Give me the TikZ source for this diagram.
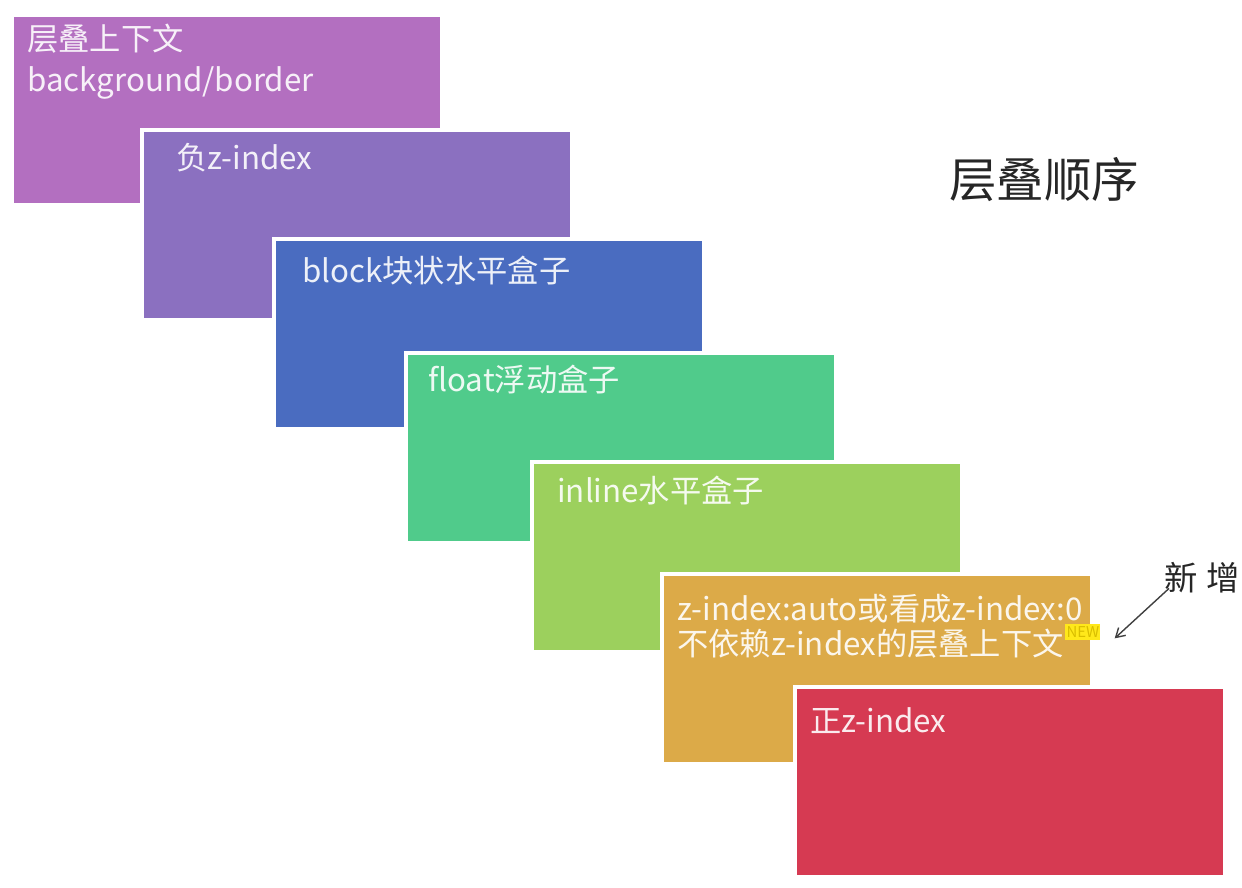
\documentclass[tikz,border=0pt]{standalone}
\usepackage{fontspec}
\setmainfont{Noto Sans CJK SC}
\usetikzlibrary{positioning, calc, shadows, arrows.meta}

\definecolor{ctxcol}{HTML}{B36FC0}
\definecolor{negcol}{HTML}{8B70C0}
\definecolor{blockcol}{HTML}{4A6CC0}
\definecolor{floatcol}{HTML}{50CB8B}
\definecolor{inlinecol}{HTML}{9CD05D}
\definecolor{autocol}{HTML}{DCAA48}
\definecolor{poscol}{HTML}{D63A52}
\definecolor{badgecol}{HTML}{FFE81A}
\definecolor{badgetxt}{HTML}{D9BE00}

\begin{document}
\begin{tikzpicture}[x=0.02cm, y=-0.02cm, font=\fontsize{17.8}{22}\selectfont]
    \tikzstyle{layer} = [rectangle, anchor=north west, minimum width=8.6cm, minimum height=3.8cm, draw=white, line width=2.3pt, drop shadow={opacity=0.12, shadow xshift=0.6pt, shadow yshift=-0.8pt}]
    \tikzstyle{tag} = [anchor=base west, inner sep=0pt, align=left, text=white, text opacity=0.9]
    \tikzstyle{arrow} = [line width=0.8pt, draw=black!75, -{Straight Barb[length=5pt, width=6pt]}]

    \useasboundingbox (0,0) rectangle (1242,888);

    % Layers, from bottom to top
    \node (ctx) [layer, fill=ctxcol] at (10,13) {};
    \node (neg) [layer, fill=negcol] at (140,128) {};
    \node (blk) [layer, fill=blockcol] at (272,237) {};
    \node (flt) [layer, fill=floatcol] at (404,351) {};
    \node (inl) [layer, fill=inlinecol] at (530,460) {};
    \node (aut) [layer, fill=autocol] at (660,572) {};
    \node (pos) [layer, fill=poscol] at (793,685) {};

    % Labels (base of a two-line label is its last line)
    \node (ctxtxt) [tag, font=\fontsize{17.8}{23.8}\selectfont] at ($(ctx.north west)+(17,79)$) {层叠上下文\\background/border};
    \node (negtxt) [tag] at ($(neg.north west)+(36,42)$) {负z-index};
    \node (blktxt) [tag] at ($(blk.north west)+(30,46)$) {block块状水平盒子};
    \node (flttxt) [tag] at ($(flt.north west)+(24,41)$) {float浮动盒子};
    \node (inltxt) [tag] at ($(inl.north west)+(27,43)$) {inline水平盒子};
    \node (auttxt) [tag, font=\fontsize{17.8}{20}\selectfont] at ($(aut.north west)+(17,84)$) {z-index:auto或看成z-index:0\\不依赖z-index的层叠上下文};
    \node (postxt) [tag] at ($(pos.north west)+(17,48)$) {正z-index};

    % Title and note
    \node (title) [anchor=base west, inner sep=0pt, font=\fontsize{27}{30}\selectfont, text=black!85] at (949,198) {层叠顺序};
    \node (newtag) [anchor=north west, fill=badgecol, inner sep=0.5pt, minimum width=0.7cm, minimum height=0.32cm, font=\fontsize{8.5}{9}\selectfont, text=badgetxt] at (1065,624) {NEW};
    \node (note) [anchor=north west, inner sep=0pt, font=\fontsize{19}{22}\selectfont, text=black!85] at (1164,562) {新\hspace{5pt}增};

    \draw [arrow] ($(note.south west)+(5,-5)$) -- ($(newtag.east)+(14,6)$);
\end{tikzpicture}
\end{document}
